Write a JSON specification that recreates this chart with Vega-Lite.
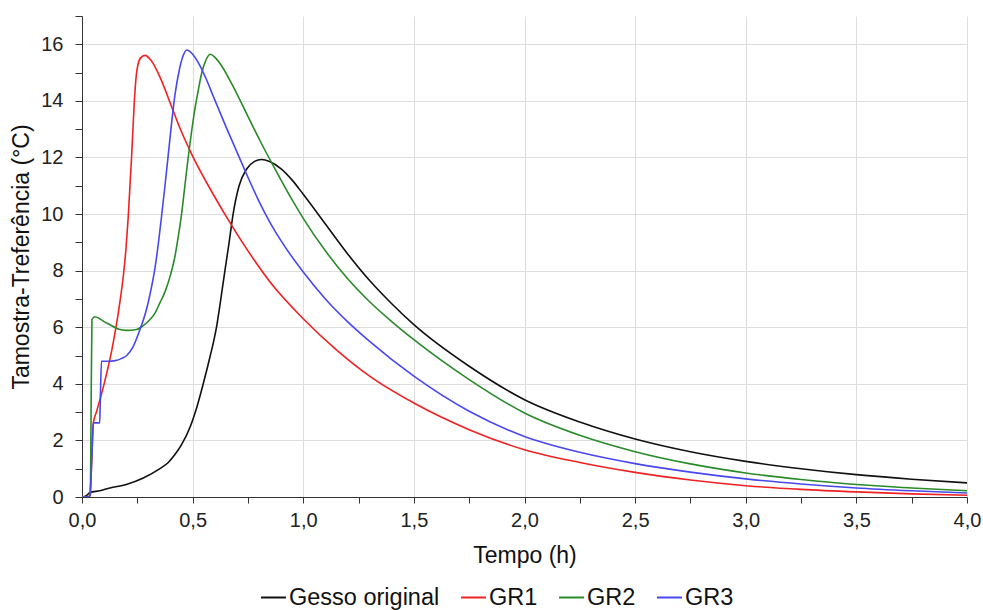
{
  "$schema": "https://vega.github.io/schema/vega-lite/v6.json",
  "autosize": {"type": "none"},
  "padding": {"left": 82, "top": 16, "right": 16, "bottom": 113},
  "width": 885,
  "height": 481,
  "background": "white",
  "config": {
    "font": "Liberation Sans",
    "view": {"stroke": null},
    "axis": {"labelFont": "Liberation Sans", "titleFont": "Liberation Sans", "labelColor": "#222", "titleColor": "#111", "titleFontWeight": "normal", "domainColor": "#333", "tickColor": "#333", "gridColor": "#dddddd", "gridWidth": 1}
  },
  "data": {"values": [
    {"serie": "Gesso original", "t": 0.0, "v": 0.0},
    {"serie": "Gesso original", "t": 0.02, "v": 0.05},
    {"serie": "Gesso original", "t": 0.035, "v": 0.15},
    {"serie": "Gesso original", "t": 0.08, "v": 0.22},
    {"serie": "Gesso original", "t": 0.126, "v": 0.32},
    {"serie": "Gesso original", "t": 0.2, "v": 0.44},
    {"serie": "Gesso original", "t": 0.277, "v": 0.67},
    {"serie": "Gesso original", "t": 0.352, "v": 1.0},
    {"serie": "Gesso original", "t": 0.39, "v": 1.22},
    {"serie": "Gesso original", "t": 0.42, "v": 1.5},
    {"serie": "Gesso original", "t": 0.45, "v": 1.85},
    {"serie": "Gesso original", "t": 0.49, "v": 2.5},
    {"serie": "Gesso original", "t": 0.52, "v": 3.2},
    {"serie": "Gesso original", "t": 0.548, "v": 4.0},
    {"serie": "Gesso original", "t": 0.58, "v": 5.0},
    {"serie": "Gesso original", "t": 0.595, "v": 5.5},
    {"serie": "Gesso original", "t": 0.608, "v": 6.0},
    {"serie": "Gesso original", "t": 0.62, "v": 6.6},
    {"serie": "Gesso original", "t": 0.633, "v": 7.3},
    {"serie": "Gesso original", "t": 0.646, "v": 8.0},
    {"serie": "Gesso original", "t": 0.665, "v": 9.0},
    {"serie": "Gesso original", "t": 0.683, "v": 10.0},
    {"serie": "Gesso original", "t": 0.71, "v": 11.0},
    {"serie": "Gesso original", "t": 0.745, "v": 11.6},
    {"serie": "Gesso original", "t": 0.78, "v": 11.86},
    {"serie": "Gesso original", "t": 0.811, "v": 11.93},
    {"serie": "Gesso original", "t": 0.85, "v": 11.85},
    {"serie": "Gesso original", "t": 0.9, "v": 11.6},
    {"serie": "Gesso original", "t": 0.95, "v": 11.2},
    {"serie": "Gesso original", "t": 1.0, "v": 10.7},
    {"serie": "Gesso original", "t": 1.1, "v": 9.65},
    {"serie": "Gesso original", "t": 1.2, "v": 8.6},
    {"serie": "Gesso original", "t": 1.3, "v": 7.65},
    {"serie": "Gesso original", "t": 1.4, "v": 6.83},
    {"serie": "Gesso original", "t": 1.5, "v": 6.09},
    {"serie": "Gesso original", "t": 1.75, "v": 4.62},
    {"serie": "Gesso original", "t": 2.0, "v": 3.44},
    {"serie": "Gesso original", "t": 2.25, "v": 2.65},
    {"serie": "Gesso original", "t": 2.5, "v": 2.05},
    {"serie": "Gesso original", "t": 2.75, "v": 1.6},
    {"serie": "Gesso original", "t": 3.0, "v": 1.26},
    {"serie": "Gesso original", "t": 3.25, "v": 1.0},
    {"serie": "Gesso original", "t": 3.5, "v": 0.79},
    {"serie": "Gesso original", "t": 3.75, "v": 0.63},
    {"serie": "Gesso original", "t": 4.0, "v": 0.5},

    {"serie": "GR1", "t": 0.0, "v": 0.0},
    {"serie": "GR1", "t": 0.03, "v": 0.02},
    {"serie": "GR1", "t": 0.036, "v": 0.1},
    {"serie": "GR1", "t": 0.045, "v": 1.5},
    {"serie": "GR1", "t": 0.051, "v": 2.6},
    {"serie": "GR1", "t": 0.065, "v": 3.0},
    {"serie": "GR1", "t": 0.081, "v": 3.44},
    {"serie": "GR1", "t": 0.1, "v": 4.0},
    {"serie": "GR1", "t": 0.119, "v": 4.62},
    {"serie": "GR1", "t": 0.135, "v": 5.2},
    {"serie": "GR1", "t": 0.149, "v": 5.8},
    {"serie": "GR1", "t": 0.164, "v": 6.5},
    {"serie": "GR1", "t": 0.176, "v": 7.15},
    {"serie": "GR1", "t": 0.188, "v": 7.9},
    {"serie": "GR1", "t": 0.199, "v": 8.8},
    {"serie": "GR1", "t": 0.209, "v": 9.9},
    {"serie": "GR1", "t": 0.224, "v": 12.0},
    {"serie": "GR1", "t": 0.236, "v": 13.9},
    {"serie": "GR1", "t": 0.244, "v": 14.8},
    {"serie": "GR1", "t": 0.252, "v": 15.25},
    {"serie": "GR1", "t": 0.265, "v": 15.52},
    {"serie": "GR1", "t": 0.285, "v": 15.61},
    {"serie": "GR1", "t": 0.31, "v": 15.45},
    {"serie": "GR1", "t": 0.352, "v": 14.85},
    {"serie": "GR1", "t": 0.4, "v": 13.9},
    {"serie": "GR1", "t": 0.442, "v": 13.05},
    {"serie": "GR1", "t": 0.5, "v": 12.05},
    {"serie": "GR1", "t": 0.593, "v": 10.7},
    {"serie": "GR1", "t": 0.653, "v": 9.9},
    {"serie": "GR1", "t": 0.75, "v": 8.7},
    {"serie": "GR1", "t": 0.85, "v": 7.6},
    {"serie": "GR1", "t": 1.0, "v": 6.3},
    {"serie": "GR1", "t": 1.15, "v": 5.2},
    {"serie": "GR1", "t": 1.3, "v": 4.27},
    {"serie": "GR1", "t": 1.5, "v": 3.32},
    {"serie": "GR1", "t": 1.75, "v": 2.38},
    {"serie": "GR1", "t": 2.0, "v": 1.67},
    {"serie": "GR1", "t": 2.25, "v": 1.22},
    {"serie": "GR1", "t": 2.5, "v": 0.87},
    {"serie": "GR1", "t": 2.75, "v": 0.6},
    {"serie": "GR1", "t": 3.0, "v": 0.4},
    {"serie": "GR1", "t": 3.25, "v": 0.27},
    {"serie": "GR1", "t": 3.5, "v": 0.18},
    {"serie": "GR1", "t": 3.75, "v": 0.11},
    {"serie": "GR1", "t": 4.0, "v": 0.06},

    {"serie": "GR2", "t": 0.0, "v": 0.0},
    {"serie": "GR2", "t": 0.03, "v": 0.0},
    {"serie": "GR2", "t": 0.038, "v": 0.1},
    {"serie": "GR2", "t": 0.041, "v": 3.0},
    {"serie": "GR2", "t": 0.045, "v": 6.27},
    {"serie": "GR2", "t": 0.059, "v": 6.37},
    {"serie": "GR2", "t": 0.08, "v": 6.3},
    {"serie": "GR2", "t": 0.1, "v": 6.2},
    {"serie": "GR2", "t": 0.126, "v": 6.09},
    {"serie": "GR2", "t": 0.16, "v": 5.95},
    {"serie": "GR2", "t": 0.202, "v": 5.89},
    {"serie": "GR2", "t": 0.247, "v": 5.92},
    {"serie": "GR2", "t": 0.275, "v": 6.05},
    {"serie": "GR2", "t": 0.3, "v": 6.21},
    {"serie": "GR2", "t": 0.33, "v": 6.5},
    {"serie": "GR2", "t": 0.352, "v": 6.86},
    {"serie": "GR2", "t": 0.375, "v": 7.25},
    {"serie": "GR2", "t": 0.4, "v": 7.85},
    {"serie": "GR2", "t": 0.42, "v": 8.5},
    {"serie": "GR2", "t": 0.435, "v": 9.2},
    {"serie": "GR2", "t": 0.45, "v": 10.0},
    {"serie": "GR2", "t": 0.465, "v": 11.0},
    {"serie": "GR2", "t": 0.48, "v": 12.0},
    {"serie": "GR2", "t": 0.495, "v": 12.9},
    {"serie": "GR2", "t": 0.51, "v": 13.7},
    {"serie": "GR2", "t": 0.525, "v": 14.35},
    {"serie": "GR2", "t": 0.54, "v": 14.95},
    {"serie": "GR2", "t": 0.558, "v": 15.4},
    {"serie": "GR2", "t": 0.579, "v": 15.65},
    {"serie": "GR2", "t": 0.6, "v": 15.55},
    {"serie": "GR2", "t": 0.63, "v": 15.25},
    {"serie": "GR2", "t": 0.677, "v": 14.6},
    {"serie": "GR2", "t": 0.744, "v": 13.55},
    {"serie": "GR2", "t": 0.804, "v": 12.6},
    {"serie": "GR2", "t": 0.879, "v": 11.5},
    {"serie": "GR2", "t": 0.95, "v": 10.5},
    {"serie": "GR2", "t": 1.0, "v": 9.85},
    {"serie": "GR2", "t": 1.1, "v": 8.7},
    {"serie": "GR2", "t": 1.2, "v": 7.72},
    {"serie": "GR2", "t": 1.3, "v": 6.9},
    {"serie": "GR2", "t": 1.4, "v": 6.2},
    {"serie": "GR2", "t": 1.5, "v": 5.56},
    {"serie": "GR2", "t": 1.75, "v": 4.15},
    {"serie": "GR2", "t": 2.0, "v": 2.97},
    {"serie": "GR2", "t": 2.25, "v": 2.18},
    {"serie": "GR2", "t": 2.5, "v": 1.6},
    {"serie": "GR2", "t": 2.75, "v": 1.17},
    {"serie": "GR2", "t": 3.0, "v": 0.85},
    {"serie": "GR2", "t": 3.25, "v": 0.62},
    {"serie": "GR2", "t": 3.5, "v": 0.44},
    {"serie": "GR2", "t": 3.75, "v": 0.32},
    {"serie": "GR2", "t": 4.0, "v": 0.22},

    {"serie": "GR3", "t": 0.0, "v": 0.0},
    {"serie": "GR3", "t": 0.03, "v": 0.0},
    {"serie": "GR3", "t": 0.036, "v": 0.05},
    {"serie": "GR3", "t": 0.045, "v": 1.5},
    {"serie": "GR3", "t": 0.051, "v": 2.62},
    {"serie": "GR3", "t": 0.08, "v": 2.62},
    {"serie": "GR3", "t": 0.083, "v": 3.5},
    {"serie": "GR3", "t": 0.088, "v": 4.8},
    {"serie": "GR3", "t": 0.12, "v": 4.8},
    {"serie": "GR3", "t": 0.15, "v": 4.82},
    {"serie": "GR3", "t": 0.18, "v": 4.9},
    {"serie": "GR3", "t": 0.202, "v": 5.0},
    {"serie": "GR3", "t": 0.23, "v": 5.3},
    {"serie": "GR3", "t": 0.262, "v": 5.92},
    {"serie": "GR3", "t": 0.285, "v": 6.45},
    {"serie": "GR3", "t": 0.3, "v": 6.9},
    {"serie": "GR3", "t": 0.315, "v": 7.45},
    {"serie": "GR3", "t": 0.33, "v": 8.1},
    {"serie": "GR3", "t": 0.345, "v": 8.95},
    {"serie": "GR3", "t": 0.36, "v": 9.95},
    {"serie": "GR3", "t": 0.375, "v": 11.0},
    {"serie": "GR3", "t": 0.39, "v": 12.1},
    {"serie": "GR3", "t": 0.404, "v": 13.15},
    {"serie": "GR3", "t": 0.42, "v": 14.2},
    {"serie": "GR3", "t": 0.44, "v": 15.1},
    {"serie": "GR3", "t": 0.455, "v": 15.55},
    {"serie": "GR3", "t": 0.474, "v": 15.8},
    {"serie": "GR3", "t": 0.5, "v": 15.65},
    {"serie": "GR3", "t": 0.533, "v": 15.25},
    {"serie": "GR3", "t": 0.56, "v": 14.8},
    {"serie": "GR3", "t": 0.594, "v": 14.15},
    {"serie": "GR3", "t": 0.65, "v": 13.1},
    {"serie": "GR3", "t": 0.7, "v": 12.2},
    {"serie": "GR3", "t": 0.75, "v": 11.3},
    {"serie": "GR3", "t": 0.8, "v": 10.45},
    {"serie": "GR3", "t": 0.85, "v": 9.7},
    {"serie": "GR3", "t": 0.9, "v": 9.05},
    {"serie": "GR3", "t": 1.0, "v": 7.95},
    {"serie": "GR3", "t": 1.1, "v": 7.0},
    {"serie": "GR3", "t": 1.2, "v": 6.2},
    {"serie": "GR3", "t": 1.3, "v": 5.5},
    {"serie": "GR3", "t": 1.5, "v": 4.27},
    {"serie": "GR3", "t": 1.75, "v": 3.03},
    {"serie": "GR3", "t": 2.0, "v": 2.14},
    {"serie": "GR3", "t": 2.25, "v": 1.58},
    {"serie": "GR3", "t": 2.5, "v": 1.18},
    {"serie": "GR3", "t": 2.75, "v": 0.88},
    {"serie": "GR3", "t": 3.0, "v": 0.64},
    {"serie": "GR3", "t": 3.25, "v": 0.46},
    {"serie": "GR3", "t": 3.5, "v": 0.32},
    {"serie": "GR3", "t": 3.75, "v": 0.22},
    {"serie": "GR3", "t": 4.0, "v": 0.14}
  ]},
  "mark": {"type": "line", "strokeWidth": 1.6, "interpolate": "monotone", "clip": true},
  "encoding": {
    "x": {
      "field": "t", "type": "quantitative",
      "scale": {"domain": [0, 4], "nice": false, "zero": false},
      "axis": {
        "title": "Tempo (h)", "titleFontSize": 23, "titleY": 65, "titleBaseline": "alphabetic",
        "values": [0, 0.25, 0.5, 0.75, 1, 1.25, 1.5, 1.75, 2, 2.25, 2.5, 2.75, 3, 3.25, 3.5, 3.75, 4],
        "labelExpr": "datum.value % 0.5 === 0 ? replace(format(datum.value, '.1f'), '.', ',') : ''",
        "labelFontSize": 20, "labelFlush": false, "labelOverlap": false, "labelPadding": 7,
        "tickSize": 6, "grid": true,
        "gridOpacity": {"condition": {"test": "datum.value % 0.5 === 0", "value": 1}, "value": 0}
      }
    },
    "y": {
      "field": "v", "type": "quantitative",
      "scale": {"domain": [0, 17], "nice": false},
      "axis": {
        "title": "Tamostra-Treferência (°C)", "titleFontSize": 23, "titlePadding": 7,
        "values": [0, 1, 2, 3, 4, 5, 6, 7, 8, 9, 10, 11, 12, 13, 14, 15, 16, 17],
        "labelExpr": "datum.value % 2 === 0 ? format(datum.value, 'd') : ''",
        "labelFontSize": 20, "labelFlush": false, "labelOverlap": false, "labelPadding": 12,
        "tickSize": 7, "grid": true,
        "gridOpacity": {"condition": {"test": "datum.value % 2 === 0 && datum.value < 17", "value": 1}, "value": 0}
      }
    },
    "color": {
      "field": "serie", "type": "nominal",
      "scale": {"domain": ["Gesso original", "GR1", "GR2", "GR3"], "range": ["#111111", "#ee2222", "#2a8a2a", "#4848ee"]},
      "legend": {
        "title": null, "orient": "none", "direction": "horizontal", "legendX": 178, "legendY": 568,
        "symbolType": "stroke", "symbolSize": 620, "symbolStrokeWidth": 2, "labelFontSize": 23.5, "labelFont": "Liberation Sans", "labelColor": "#111",
        "labelOffset": 2, "columnPadding": 17, "padding": 0
      }
    }
  }
}
